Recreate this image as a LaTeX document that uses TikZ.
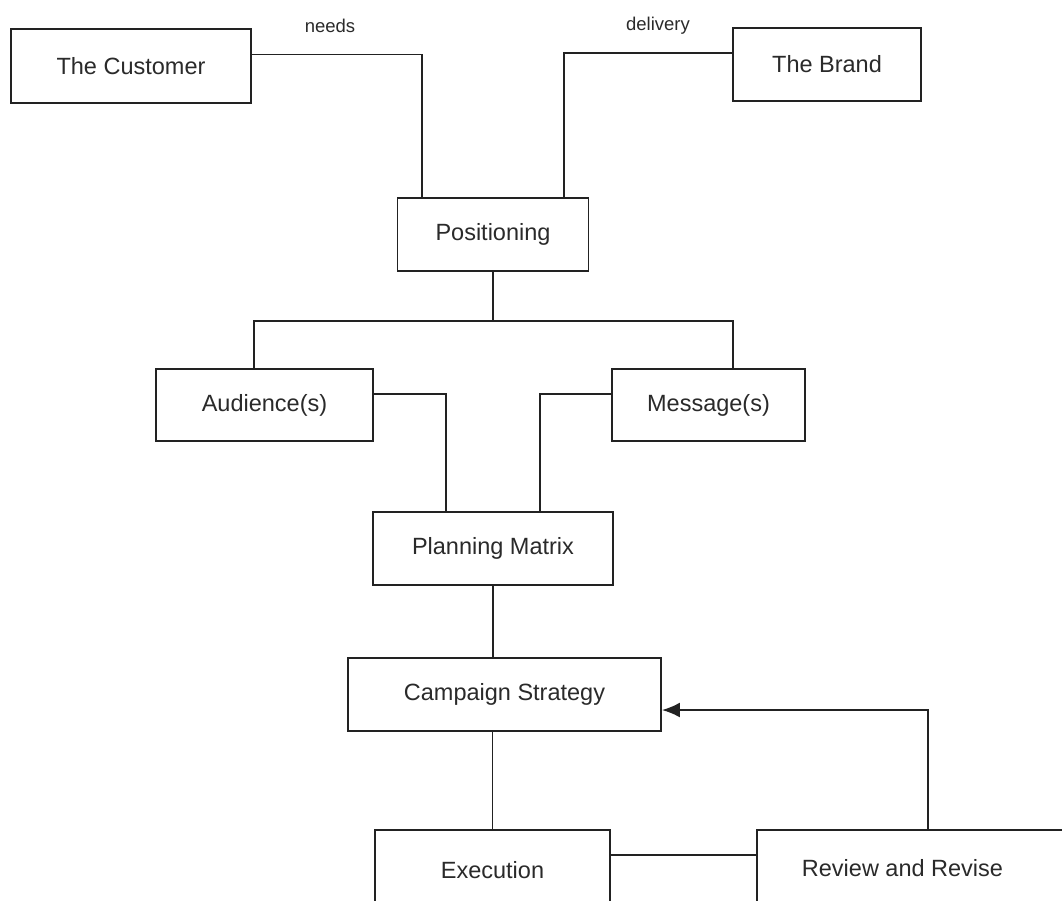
\documentclass[tikz,border=0pt]{standalone}
\usepackage{fontspec}
\setmainfont{Liberation Sans}
\usetikzlibrary{arrows.meta}

\definecolor{ink}{HTML}{222222}
\definecolor{txt}{HTML}{2A2A2A}

\tikzset{
  box/.style={draw=ink, line width=1.9pt, fill=white, rectangle, inner sep=0pt,
              text=txt, font=\fontsize{23.5}{28}\selectfont},
  link/.style={draw=ink, line width=1.9pt},
  tag/.style={text=txt, font=\fontsize{18.5}{22}\selectfont, inner sep=0pt},
  boxtext/.style={text=txt, font=\fontsize{23.5}{28}\selectfont, inner sep=0pt}
}

\begin{document}
\begin{tikzpicture}[x=1pt, y=1pt]
  \useasboundingbox (0,0) rectangle (1062,-900);
  \clip (0,0) rectangle (1062,-900);
  \fill[white] (0,0) rectangle (1062,-900);

  % top row
  \node[box, minimum width=240, minimum height=74] (cust) at (131,-66) {The Customer};
  \node[box, minimum width=188, minimum height=73] (brand) at (827,-64.5) {The Brand};
  \node[tag] (needs) at (330,-26) {needs};
  \node[tag] (delivery) at (658,-26) {delivery};

  % positioning and its two branches
  \node[box, minimum width=191, minimum height=73] (pos) at (493,-234.5) {Positioning};
  \node[box, minimum width=217, minimum height=72] (aud) at (264.5,-405) {Audience(s)};
  \node[box, minimum width=193, minimum height=72] (msg) at (708.5,-405) {Message(s)};

  % planning chain
  \node[box, minimum width=240, minimum height=73] (plan) at (493,-548.5) {Planning Matrix};
  \node[box, minimum width=313, minimum height=73] (camp) at (504.5,-694.5) {Campaign Strategy};
  \node[box, minimum width=235, minimum height=80] (exec) at (492.5,-870) {Execution};
  \node[box, minimum width=342, minimum height=80] (rev) at (928,-870) {};
  \node[boxtext] (revtext) at (902.5,-868) {Review and Revise};

  % connectors
  \draw[link] ([yshift=11.5]cust.east) -| ([xshift=-71]pos.north);
  \draw[link] ([yshift=11.5]brand.west) -| ([xshift=71]pos.north);

  \coordinate (split) at (493,-321);
  \draw[link] (pos.south) -- (split);
  \draw[link] ([xshift=-10.5]aud.north) |- (split) -| ([xshift=24.5]msg.north);

  \draw[link] ([yshift=11]aud.east) -| ([xshift=-47]plan.north);
  \draw[link] ([yshift=11]msg.west) -| ([xshift=47]plan.north);

  \draw[link] (plan.south) -- (plan.south |- camp.north);
  \draw[link] (exec.north) -- (exec.north |- camp.south);
  \draw[link] ([yshift=15]exec.east) -- ([yshift=15]rev.west);

  \draw[link, -{Latex[length=18pt, width=15pt]}] (rev.north) |- ([yshift=-15.5]camp.east);
\end{tikzpicture}
\end{document}
